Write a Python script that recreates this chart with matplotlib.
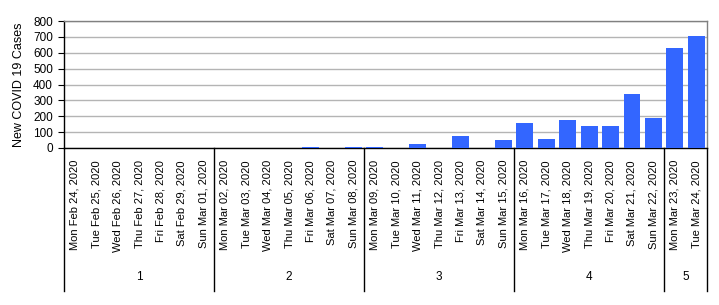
import matplotlib
matplotlib.use("Agg")
import matplotlib.pyplot as plt
import matplotlib.transforms as mtransforms

plt.rcParams['font.family'] = ['Liberation Sans', 'DejaVu Sans']

# day labels and daily new cases
DATES = ["Mon Feb 24, 2020", "Tue Feb 25, 2020", "Wed Feb 26, 2020", "Thu Feb 27, 2020",
         "Fri Feb 28, 2020", "Sat Feb 29, 2020", "Sun Mar 01, 2020",
         "Mon Mar 02, 2020", "Tue Mar 03, 2020", "Wed Mar 04, 2020", "Thu Mar 05, 2020",
         "Fri Mar 06, 2020", "Sat Mar 07, 2020", "Sun Mar 08, 2020",
         "Mon Mar 09, 2020", "Tue Mar 10, 2020", "Wed Mar 11, 2020", "Thu Mar 12, 2020",
         "Fri Mar 13, 2020", "Sat Mar 14, 2020", "Sun Mar 15, 2020",
         "Mon Mar 16, 2020", "Tue Mar 17, 2020", "Wed Mar 18, 2020", "Thu Mar 19, 2020",
         "Fri Mar 20, 2020", "Sat Mar 21, 2020", "Sun Mar 22, 2020",
         "Mon Mar 23, 2020", "Tue Mar 24, 2020"]
NEW_CASES = [0, 0, 0, 0, 0, 0, 0,
             0, 0, 0, 0, 5, 0, 5,
             5, 0, 27, 0, 74, 0, 53,
             160, 59, 179, 141, 141, 338, 186,
             629, 705]
WEEK_LABELS = ["1", "2", "3", "4", "5"]
WEEK_SIZES = [7, 7, 7, 7, 2]

BAR_COLOR = "#3366ff"

fig = plt.figure(figsize=(7.19, 3.05), dpi=100)
W, H = 719, 305
ax = fig.add_axes([64 / W, 1 - 148 / H, (707 - 64) / W, (148 - 21) / H])

x = list(range(len(DATES)))
ax.bar(x, NEW_CASES, width=0.79, color=BAR_COLOR, zorder=3)

ax.set_xlim(-0.5, len(DATES) - 0.5)
ax.set_ylim(0, 800)
ax.set_yticks(range(0, 801, 100))
ax.tick_params(axis='y', labelsize=8.5, length=4, width=0.8, pad=4, direction='out')
ax.yaxis.grid(True, color='#b4b4b4', linewidth=1, zorder=0)
ax.set_axisbelow(True)

ax.set_xticks(x)
ax.set_xticklabels([])
ax.tick_params(axis='x', length=0)

for s in ['top', 'right']:
    ax.spines[s].set_color('#808080')
    ax.spines[s].set_linewidth(1)
for s in ['left', 'bottom']:
    ax.spines[s].set_color('black')
    ax.spines[s].set_linewidth(1)

ax.set_ylabel("New COVID 19 Cases", fontsize=9, labelpad=6)

# rotated date labels under each bar
trans = mtransforms.blended_transform_factory(ax.transData, ax.transAxes)
date_y = -(160 - 148) / (148 - 21)
for xi, lab in zip(x, DATES):
    ax.text(xi, date_y, lab, rotation=90, ha='center', va='top',
            fontsize=8, transform=trans)

# week grouping: separators and labels
bottom_y = -(291 - 148) / (148 - 21)
week_y = -(277 - 148) / (148 - 21)
start = -0.5
edges = [start]
for n in WEEK_SIZES:
    edges.append(edges[-1] + n)
for e in edges:
    ax.plot([e, e], [0, bottom_y], color='black', linewidth=1,
            transform=trans, clip_on=False)
for lab, a, b in zip(WEEK_LABELS, edges[:-1], edges[1:]):
    ax.text((a + b) / 2, week_y, lab, ha='center', va='center',
            fontsize=8.5, transform=trans)

fig.savefig("out.png", dpi=100)
